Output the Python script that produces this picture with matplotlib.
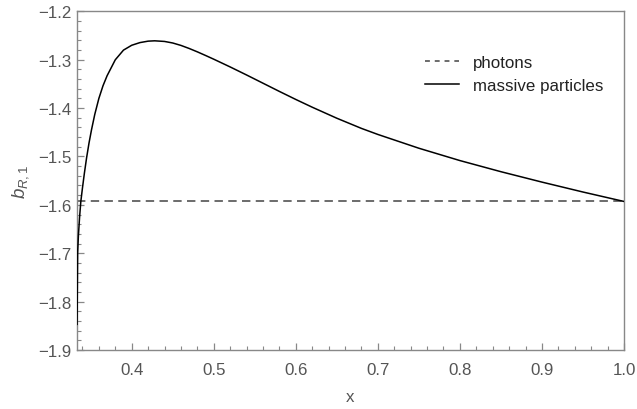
import matplotlib
matplotlib.use("Agg")
import matplotlib.pyplot as plt
from matplotlib.ticker import MultipleLocator

plt.rcParams['font.family'] = ['Liberation Sans', 'DejaVu Sans']
plt.rcParams['mathtext.fontset'] = 'custom'
plt.rcParams['mathtext.it'] = 'Liberation Sans:italic'
plt.rcParams['mathtext.rm'] = 'Liberation Sans'

# massive particles curve
x_massive = [0.33340, 0.3341, 0.3350, 0.3365, 0.3380, 0.3400, 0.3423, 0.345,
             0.348, 0.351, 0.355, 0.360, 0.365, 0.370, 0.380, 0.390,
             0.400, 0.410, 0.420, 0.428, 0.440, 0.450, 0.460, 0.470,
             0.480, 0.490, 0.500, 0.520, 0.540, 0.560, 0.580, 0.600,
             0.620, 0.650, 0.680, 0.700, 0.750, 0.800, 0.850, 0.900,
             0.950, 1.000]
y_massive = [-1.847, -1.700, -1.665, -1.625, -1.593, -1.565, -1.535, -1.503,
             -1.472, -1.445, -1.413, -1.380, -1.354, -1.3332, -1.3002, -1.2802,
             -1.2702, -1.2647, -1.2617, -1.2610, -1.2623, -1.2655, -1.2705, -1.2768,
             -1.2838, -1.2913, -1.2990, -1.3150, -1.3316, -1.3486, -1.3656, -1.3822,
             -1.3982, -1.4210, -1.4420, -1.4545, -1.4830, -1.5085, -1.5315, -1.5530,
             -1.5735, -1.5930]

# photons (constant)
x_photons = [1/3, 1.0]
y_photons = [-1.593, -1.593]

x_ticks = [0.4, 0.5, 0.6, 0.7, 0.8, 0.9, 1.0]
y_ticks = [-1.9, -1.8, -1.7, -1.6, -1.5, -1.4, -1.3, -1.2]

fig = plt.figure(figsize=(6.37, 4.10), dpi=100)
ax = fig.add_axes([77/637, 59/410, (624-77)/637, (351-12.3)/410])

ax.plot(x_photons, y_photons, color='#444444', lw=1.1, dashes=(5.5, 3.5), label='photons')
ax.plot(x_massive, y_massive, color='black', lw=1.1, label='massive particles', zorder=3)

ax.set_xlim(1/3, 1.0)
ax.set_ylim(-1.9, -1.2)
ax.set_xticks(x_ticks)
ax.set_yticks(y_ticks)
ax.set_xticklabels([f"{v:.1f}" for v in x_ticks])
ax.set_yticklabels([f"\u2212{abs(v):.1f}" for v in y_ticks])
ax.xaxis.set_minor_locator(MultipleLocator(0.02))
ax.yaxis.set_minor_locator(MultipleLocator(0.02))

gray = '#888888'
for s in ax.spines.values():
    s.set_color(gray)
    s.set_linewidth(1.0)
ax.tick_params(which='both', direction='in', color=gray, top=False, right=False)
ax.tick_params(which='major', length=5, width=0.9, labelsize=12.2, labelcolor='#555555')
ax.tick_params(axis='x', which='major', pad=9)
ax.tick_params(axis='y', which='major', pad=4)
ax.tick_params(which='minor', length=3, width=0.8)

ax.set_xlabel('x', fontsize=12.2, color='#555555', labelpad=8)
ax.set_ylabel(r'$b_{R,\mathrm{1}}$', fontsize=13.5, color='#555555', labelpad=5)

leg = ax.legend(loc='upper right', bbox_to_anchor=(0.99, 0.915), frameon=False,
                fontsize=12.2, handlelength=2.0, handletextpad=0.85, labelspacing=0.45)
for t in leg.get_texts():
    t.set_color('#222222')
leg.get_lines()[0].set_dashes((3.2, 3.2))

fig.savefig('out.png', dpi=100)
